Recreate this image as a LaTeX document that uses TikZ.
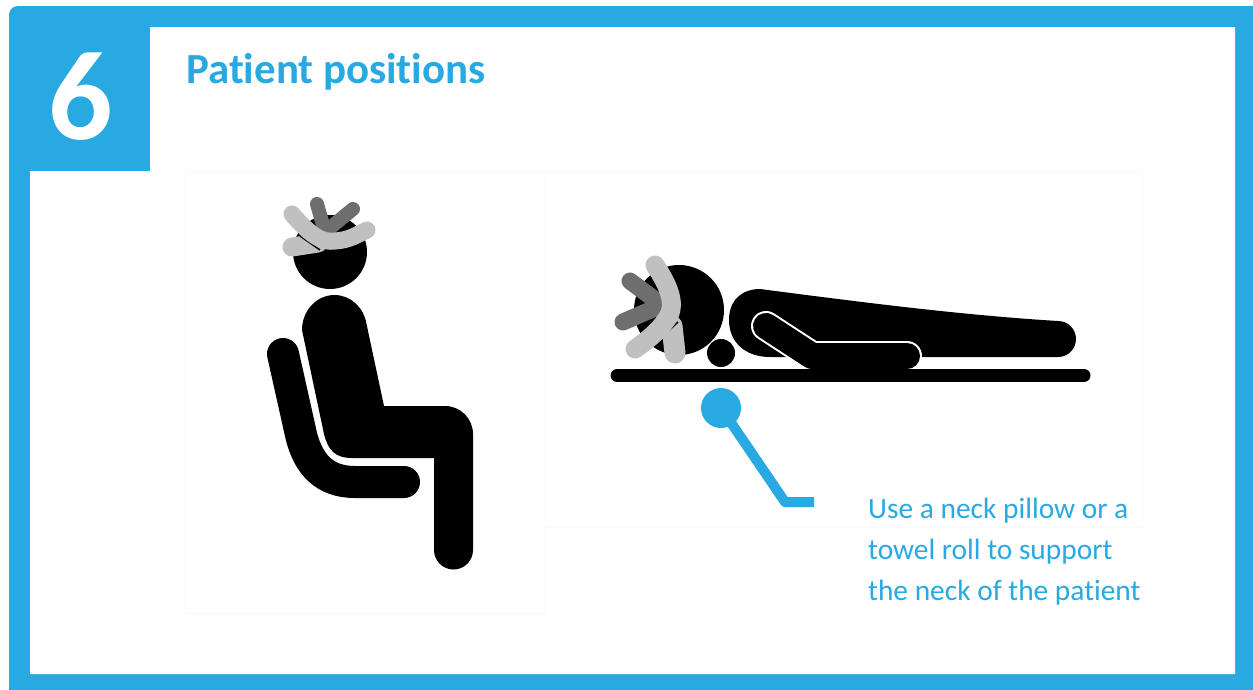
\documentclass[tikz,border=0pt]{standalone}
\usepackage{fontspec}
\setmainfont[Ligatures=NoCommon]{Carlito}
\usetikzlibrary{positioning}
\definecolor{panelblue}{HTML}{29A9E1}
\definecolor{armdark}{HTML}{6E6E6E}
\definecolor{armlight}{HTML}{C0C0C0}

\begin{document}
\begin{tikzpicture}[x=1pt,y=-1pt,
  limb/.style={line cap=round,line join=round},
  darkarm/.style={limb,draw=armdark},
  lightarm/.style={limb,draw=armlight},
  faintbox/.style={draw=black!2,line width=.6pt}]
\useasboundingbox (0,0) rectangle (1253,689);
% frame and number tab
\fill[panelblue,rounded corners=9pt] (9,6) rectangle (1275,710);
\fill[white] (30,171) -- (150,171) -- (150,27) -- (1235,27) -- (1235,674) -- (30,674) -- cycle;
\node[text=white,font=\fontsize{127}{127}\selectfont\bfseries] (number) at (81,97) {6};
\node[text=panelblue,font=\fontsize{42.9}{43}\selectfont\bfseries,anchor=base west,inner sep=0pt] (title) at (186,83) {Patient positions};
\draw[faintbox] (185,171) rectangle (545,613);
\draw[faintbox] (545,171) rectangle (1142,527);

% seated figure
\fill (330,252) circle (37);
\fill (302,330) arc[start angle=180,end angle=350,x radius=32.5,y radius=35]
  -- (384,406) -- (445,406) arc[start angle=-90,end angle=0,radius=28]
  -- (473,550) arc[start angle=0,delta angle=180,radius=19.5] -- (434,458) -- (352,458)
  .. controls (335,458) and (328,450) .. (324,434) -- cycle;
\draw[limb,line width=32pt] (283,354) -- (300,430) .. controls (307,465) and (325,482) .. (355,482) -- (404,482);
\draw[lightarm,line width=19pt] (292,247) -- (318,243);
\draw[darkarm,line width=14pt] (317,204) -- (325,232) -- (353,209);
\draw[draw=black,line width=1.5pt] (300,236) -- (320,250);
\draw[lightarm,line width=17pt] (292,214) .. controls (310,235) and (322,243) .. (335,241) .. controls (350,240) and (356,235) .. (367,230);

% prone figure
\fill (679,310) circle (45);
\fill (721,353) circle (14);
\fill (760,289) .. controls (860,302) and (960,315) .. (1058,321)
  arc[start angle=-90,end angle=90,radius=18] -- (770,357)
  .. controls (745,357) and (729,342) .. (729,320) .. controls (729,300) and (742,289) .. (760,289) -- cycle;
\draw[limb,draw=white,line width=30pt] (766,326) -- (812,356) -- (907,356);
\draw[limb,line width=26pt] (766,326) -- (812,356) -- (907,356);
\draw[limb,line width=13pt] (617,375.5) -- (1084,375.5);
\draw[lightarm,line width=21pt] (672,326) -- (675,353);
\draw[darkarm,line width=17pt] (630,281) -- (662,305) -- (623,322);
\draw[draw=black,line width=1.5pt] (662,337) -- (678,322);
\draw[lightarm,line width=19pt] (655,265) .. controls (668,285) and (678,305) .. (666,320) .. controls (658,332) and (645,342) .. (635,349);

% neck pillow callout
\node[circle,fill=panelblue,minimum size=40pt,inner sep=0pt] (pillow) at (721,408) {};
\coordinate (bend) at (785,502);
\coordinate (tail) at (814,502);
\draw[panelblue,line width=10pt,line join=round] (pillow.center) -- (bend) -- (tail);
\node[text=panelblue,anchor=north west,inner sep=0pt,align=left,font=\fontsize{29.4}{41}\selectfont] (note) at (868,498)
  {Use a neck pillow or a\\towel roll to support\\the neck of the patient};
\end{tikzpicture}
\end{document}
